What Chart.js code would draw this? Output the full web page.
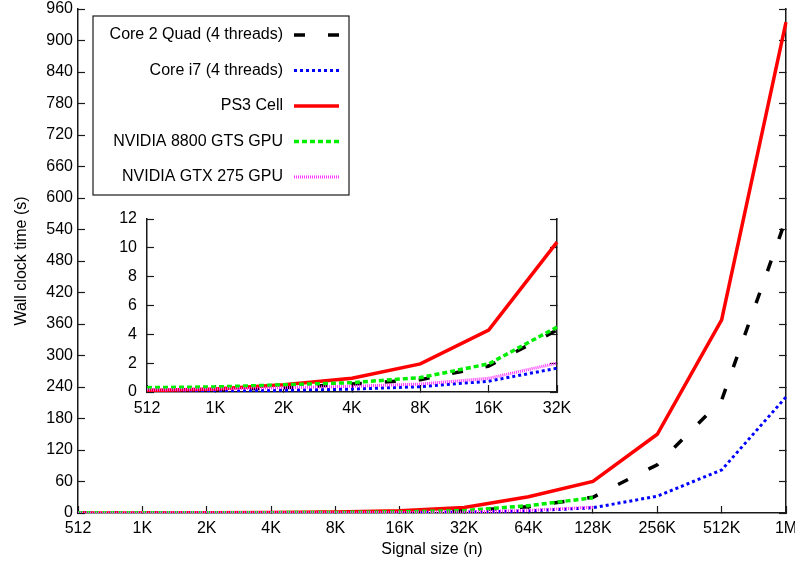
<!DOCTYPE html>
<html>
<head>
<meta charset="utf-8">
<script src="https://cdn.jsdelivr.net/npm/chart.js@4.4.0/dist/chart.umd.min.js"></script>
<style>
  body { margin: 0; background: #fff; }
  #wrap { position: relative; width: 795px; height: 565px; }
  #main { position: absolute; left: 0; top: 0; }
  #inset { position: absolute; left: 100px; top: 200px; }
</style>
</head>
<body>
<div id="wrap">
  <canvas id="main" width="795" height="565"></canvas>
  <canvas id="inset" width="480" height="235"></canvas>
</div>
<script>
// signal sizes on the x axis
const sizes = ['512', '1K', '2K', '4K', '8K', '16K', '32K', '64K', '128K', '256K', '512K', '1M'];

// wall clock time (s) per size
const core2Quad = [0.1, 0.15, 0.3, 0.55, 0.85, 1.8, 4.3, 12, 30, 92, 215, 560];
const coreI7    = [0.03, 0.05, 0.12, 0.2, 0.37, 0.75, 1.65, 4, 10, 32, 82, 221];
const ps3Cell   = [0.1, 0.2, 0.5, 0.95, 1.95, 4.3, 10.4, 31, 60, 150, 368, 935];
const gts8800   = [0.3, 0.35, 0.5, 0.65, 1.0, 1.95, 4.5, 14, 29, null, null, null];
const gtx275    = [0.15, 0.2, 0.3, 0.4, 0.55, 0.95, 2.0, 5, 11, null, null, null];

const insetCount = 7; // inset zooms on 512 .. 32K

const FONT = '"Liberation Sans", Arial, sans-serif';
const axisColor = '#1a1a1a';

const series = [
  { label: 'Core 2 Quad (4 threads)', data: core2Quad, color: '#000000', width: 3.5, dash: [11, 23], order: 5 },
  { label: 'Core i7 (4 threads)',     data: coreI7,    color: '#0000ff', width: 3,   dash: [3, 3],   order: 4 },
  { label: 'PS3 Cell',                data: ps3Cell,   color: '#ff0000', width: 3.5, dash: [],       order: 3 },
  { label: 'NVIDIA 8800 GTS GPU',     data: gts8800,   color: '#00ee00', width: 3.5, dash: [5, 3],   order: 2 },
  { label: 'NVIDIA GTX 275 GPU',      data: gtx275,    color: '#ff33ff', width: 3,   dash: [1, 1],   order: 1 }
];

function makeDatasets(count) {
  return series.map(s => ({
    label: s.label,
    data: s.data.slice(0, count),
    borderColor: s.color,
    backgroundColor: s.color,
    borderWidth: s.width,
    borderDash: s.dash,
    borderCapStyle: 'butt',
    order: s.order,
    pointRadius: 0,
    tension: 0,
    fill: false
  }));
}

const fixWidth = w => scale => { scale.width = w; scale.paddingTop = 0; scale.paddingBottom = 0; };
const fixHeight = h => scale => { scale.height = h; scale.paddingLeft = 0; scale.paddingRight = 0; };

function grid() {
  return { drawOnChartArea: false, drawTicks: true, tickLength: -7, tickColor: axisColor, tickWidth: 1.2, color: axisColor };
}
const border = { display: true, color: axisColor, width: 1.5 };
const tickFont = { family: FONT, size: 16 };

function yAxes(max, step, leftW, rightW, pad, title) {
  const left = {
    type: 'linear', position: 'left', min: 0, max: max,
    grid: grid(), border: border,
    ticks: { stepSize: step, maxTicksLimit: 30, autoSkip: false, color: '#000', font: tickFont, padding: pad },
    afterFit: fixWidth(leftW)
  };
  if (title) {
    left.title = { display: true, text: title, color: '#000', font: { family: FONT, size: 16 }, padding: { top: 12, bottom: 0 } };
  }
  const right = {
    type: 'linear', position: 'right', min: 0, max: max,
    grid: grid(), border: border,
    ticks: { stepSize: step, maxTicksLimit: 30, display: false },
    afterFit: fixWidth(rightW)
  };
  return { y: left, y2: right };
}

function xAxis(height, pad, title) {
  const x = {
    type: 'category', position: 'bottom', offset: false,
    grid: grid(), border: border,
    ticks: { autoSkip: false, maxRotation: 0, color: '#000', font: tickFont, padding: pad },
    afterFit: fixHeight(height)
  };
  if (title) {
    x.title = { display: true, text: title, color: '#000', font: { family: FONT, size: 16 }, padding: { top: 0, bottom: 6 } };
  }
  return x;
}

// gnuplot style key: label on the left, line sample on the right, boxed
const keyBox = {
  id: 'keyBox',
  afterDraw(chart, args, o) {
    if (!o.show) return;
    const ctx = chart.ctx;
    ctx.save();
    ctx.strokeStyle = axisColor;
    ctx.lineWidth = 1.2;
    ctx.setLineDash([]);
    ctx.strokeRect(o.left, o.top, o.width, o.height);
    ctx.font = '16px ' + FONT;
    ctx.textAlign = 'right';
    ctx.textBaseline = 'middle';
    chart.data.datasets.forEach((ds, i) => {
      const y = o.firstRow + i * o.rowGap;
      ctx.fillStyle = '#000';
      ctx.fillText(ds.label, o.textRight, y);
      ctx.strokeStyle = ds.borderColor;
      ctx.lineWidth = ds.borderWidth;
      ctx.lineCap = 'butt';
      ctx.setLineDash(ds.borderDash);
      ctx.beginPath();
      ctx.moveTo(o.sampleLeft, y);
      ctx.lineTo(o.sampleRight, y);
      ctx.stroke();
    });
    ctx.restore();
  }
};

Chart.defaults.font.family = FONT;

new Chart(document.getElementById('main'), {
  type: 'line',
  data: { labels: sizes, datasets: makeDatasets(sizes.length) },
  options: {
    responsive: false,
    animation: false,
    devicePixelRatio: 1,
    layout: { padding: { top: 9, left: 0, right: 0, bottom: 0 } },
    scales: Object.assign({ x: xAxis(52, 13, 'Signal size (n)') },
      yAxes(960, 60, 78, 9, 12, 'Wall clock time (s)')),
    plugins: {
      legend: { display: false },
      tooltip: { enabled: false },
      keyBox: { show: true, left: 93, top: 16, width: 256, height: 179,
        firstRow: 35, rowGap: 35.5, textRight: 283, sampleLeft: 294, sampleRight: 339 }
    }
  },
  plugins: [keyBox]
});

new Chart(document.getElementById('inset'), {
  type: 'line',
  data: { labels: sizes.slice(0, insetCount), datasets: makeDatasets(insetCount) },
  options: {
    responsive: false,
    animation: false,
    devicePixelRatio: 1,
    layout: { padding: { top: 19, left: 0, right: 0, bottom: 0 } },
    scales: Object.assign({ x: xAxis(43, 14) }, yAxes(12, 2, 47, 23, 17)),
    plugins: {
      legend: { display: false },
      tooltip: { enabled: false },
      keyBox: { show: false }
    }
  },
  plugins: [keyBox]
});
</script>
</body>
</html>
